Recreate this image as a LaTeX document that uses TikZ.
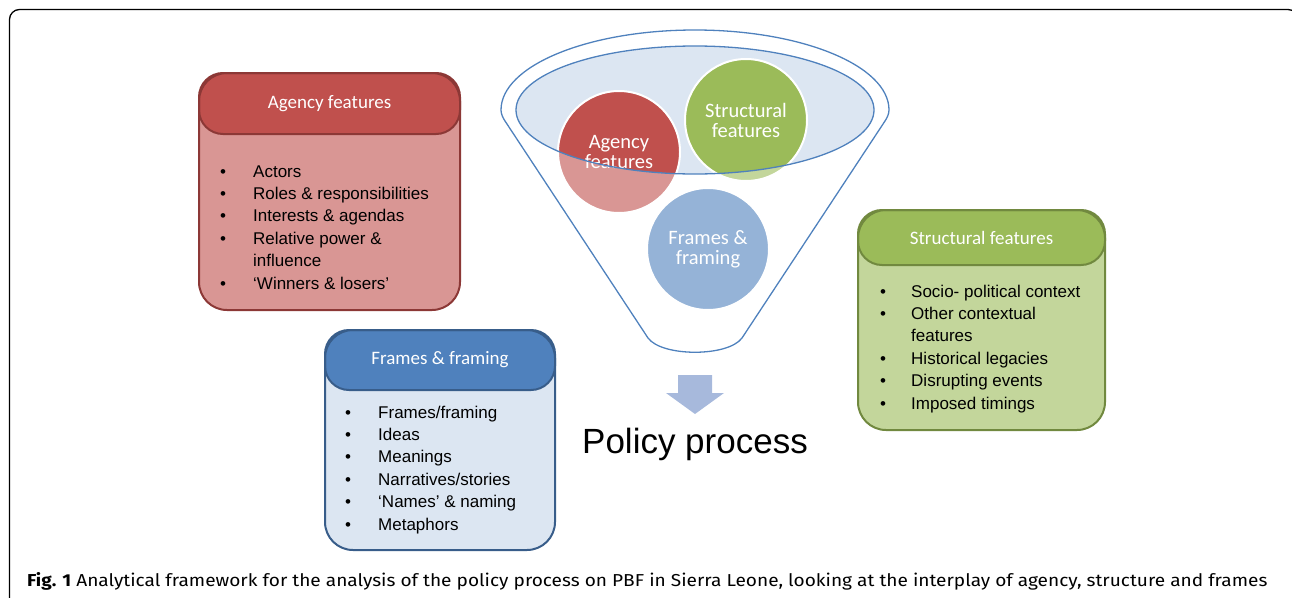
\documentclass[tikz,border=0pt]{standalone}
\usepackage{fontspec}
\setmainfont{Liberation Sans}
\newfontfamily\calibri{Carlito}
\newfontfamily\capfont{Fira Sans}
\usepackage{graphicx}
\definecolor{agdark}{HTML}{C0504D}
\definecolor{aglight}{HTML}{D99694}
\definecolor{agline}{HTML}{8C3836}
\definecolor{frdark}{HTML}{4F81BD}
\definecolor{frlight}{HTML}{DCE6F2}
\definecolor{frline}{HTML}{385D8A}
\definecolor{frcirc}{HTML}{95B3D7}
\definecolor{stdark}{HTML}{9BBB59}
\definecolor{stlight}{HTML}{C3D69B}
\definecolor{stline}{HTML}{71893F}
\definecolor{ellfill}{HTML}{DCE6F2}
\definecolor{arrowblue}{HTML}{A7B9DC}
\tikzset{
  boxbody/.style={rectangle, rounded corners=28pt, line width=2pt, inner sep=0pt},
  boxhead/.style={rectangle, rounded corners=24pt, line width=2pt, inner sep=0pt,
    text=white, font=\calibri\fontsize{19}{20}\selectfont},
  listtext/.style={anchor=base west, inner sep=0pt, font=\fontsize{17}{22.4}\selectfont},
  circ/.style={circle, minimum size=122pt, inner sep=0pt, text=white,
    font=\calibri\fontsize{20.5}{20}\selectfont, align=center},
  funnelline/.style={draw=frdark, line width=1.3pt}
}
\begin{document}
\begin{tikzpicture}[x=1pt,y=-1pt]
\useasboundingbox (0,0) rectangle (1292,597);
% outer frame
\begin{scope}
\clip (0,0) rectangle (1292,597);
\draw[line width=1.3pt, rounded corners=10pt] (9.5,620) -- (9.5,9.5) -- (1298,9.5) -- (1298,620);
\end{scope}

% funnel: inner ellipse fill
\fill[ellfill] (695,110) ellipse [x radius=179, y radius=64];
% circles (light parts)
\node[circ, fill=aglight] (agencyc) at (619,152) {};
\node[circ, fill=stlight] (structc) at (746,120) {};
% darker parts inside the ellipse
\begin{scope}
\clip (695,110) ellipse [x radius=179, y radius=64];
\fill[agdark] (agencyc.center) circle (61);
\fill[stdark] (structc.center) circle (61);
\end{scope}
\draw[white, line width=2pt] (agencyc.center) circle (61);
\draw[white, line width=2pt] (structc.center) circle (61);
\node[circ] (agencyt) at (agencyc.center) {Agency\\features};
\node[circ] (structt) at (structc.center) {Structural\\features};
% inner ellipse outline
\draw[funnelline] (695,110) ellipse [x radius=179, y radius=64];
% funnel outline
\draw[funnelline, line join=round] (501,110) arc[start angle=180, end angle=360, x radius=194, y radius=80]
  .. controls (889,114) and (887,118) .. (885,121)
  -- (742,338) .. controls (728,357) and (662,357) .. (648,338)
  -- (505,121) .. controls (503,118) and (501,114) .. (501,110) -- cycle;
% frames circle
\node[circ, fill=frcirc, draw=white, line width=2pt] (framesc) at (708,249) {Frames \&\\framing};

% arrow
\fill[arrowblue] (678,375) -- (712,375) -- (712,393) -- (724,393) -- (695,414)
  -- (666,393) -- (678,393) -- cycle;
\node[anchor=base, inner sep=0pt, font=\fontsize{35}{35}\selectfont] (policy) at (695,453) {Policy process};

% Agency box
\node[boxbody, fill=aglight, minimum width=261pt, minimum height=237pt] (agbox) at (329.5,191.5) {};
\node[boxhead, fill=agdark, draw=agline, minimum width=261pt, minimum height=61pt] (aghead) at (329.5,103.5) {Agency features};
\node[boxbody, draw=agline, minimum width=261pt, minimum height=237pt] (agframe) at (329.5,191.5) {};
\node[listtext] (aglist) at (220,177) {\begin{tabular}[t]{@{}p{33pt}@{}l@{}}
\textbullet & Actors\\
\textbullet & Roles \& responsibilities\\
\textbullet & Interests \& agendas\\
\textbullet & Relative power \&\\
 & influence\\
\textbullet & `Winners \& losers'
\end{tabular}};

% Frames box
\node[boxbody, fill=frlight, minimum width=230pt, minimum height=220pt] (frbox) at (440,440) {};
\node[boxhead, fill=frdark, draw=frline, minimum width=230pt, minimum height=60pt] (frhead) at (440,360) {Frames \& framing};
\node[boxbody, draw=frline, minimum width=230pt, minimum height=220pt] (frframe) at (440,440) {};
\node[listtext] (frlist) at (345,418) {\begin{tabular}[t]{@{}p{33pt}@{}l@{}}
\textbullet & Frames/framing\\
\textbullet & Ideas\\
\textbullet & Meanings\\
\textbullet & Narratives/stories\\
\textbullet & `Names' \& naming\\
\textbullet & Metaphors
\end{tabular}};

% Structural box
\node[boxbody, fill=stlight, minimum width=247pt, minimum height=220pt] (stbox) at (981.5,320) {};
\node[boxhead, fill=stdark, draw=stline, minimum width=247pt, minimum height=55pt] (sthead) at (981.5,237.5) {Structural features};
\node[boxbody, draw=stline, minimum width=247pt, minimum height=220pt] (stframe) at (981.5,320) {};
\node[listtext] (stlist) at (880,297) {\begin{tabular}[t]{@{}p{31pt}@{}l@{}}
\textbullet & Socio- political context\\
\textbullet & Other contextual\\
 & features\\
\textbullet & Historical legacies\\
\textbullet & Disrupting events\\
\textbullet & Imposed timings
\end{tabular}};

% caption
\node[anchor=base west, inner sep=0pt] (caption) at (27,586) {\resizebox{1240pt}{14pt}{\capfont\textbf{Fig. 1} Analytical framework for the analysis of the policy process on PBF in Sierra Leone, looking at the interplay of agency, structure and frames}};
\end{tikzpicture}
\end{document}
